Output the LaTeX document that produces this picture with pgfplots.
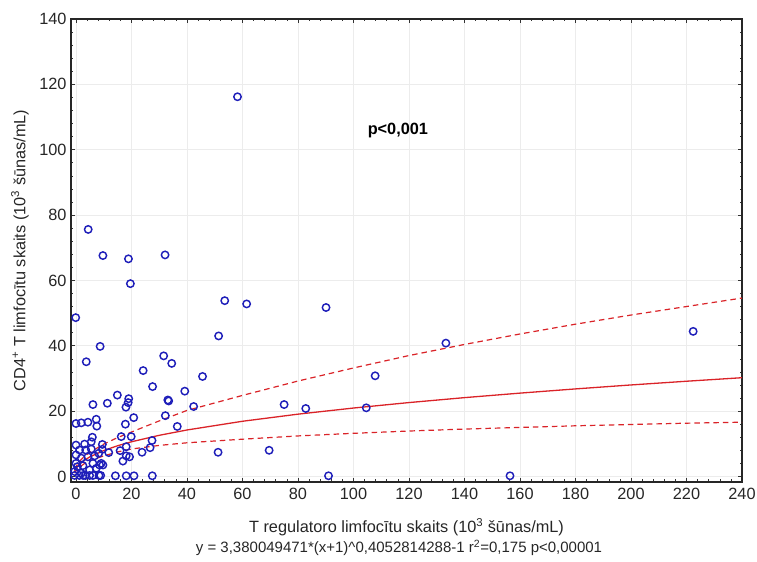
\documentclass[border=0pt]{standalone}
\usepackage{fontspec}
\setmainfont{Liberation Sans}
\usepackage{pgfplots}
\pgfplotsset{compat=1.18}
\definecolor{ptblue}{RGB}{30,30,185}
\definecolor{fitred}{RGB}{218,35,40}
\newcommand{\fs}{\fontsize{16.3bp}{18bp}\selectfont}
\begin{document}
\begin{tikzpicture}
\useasboundingbox (-71bp,-80bp) rectangle (686bp,482bp);
\begin{axis}[
 at={(0,0)}, anchor=south west,
 width=671bp, height=463bp, scale only axis,
 xmin=-1.8, xmax=240, ymin=-1.7, ymax=140,
 xtick={0,20,...,240}, ytick={0,20,...,140},
 minor x tick num=4, minor y tick num=4,
 tick align=inside,
 major tick length=4bp, minor tick length=2.5bp,
 grid=major, major grid style={gray!15, line width=0.6bp},
 axis line style={line width=1.2bp, black!85},
 tick style={black!80, line width=0.6bp},
 ticklabel style={font=\fs, text=black!85},
 xticklabel style={yshift=-3bp},
 yticklabel style={xshift=-1bp},
 /pgf/number format/assume math mode=true,
 xlabel={T regulatoro limfocītu skaits (10\textsuperscript{3} šūnas/mL)},
 ylabel={CD4\textsuperscript{+} T limfocītu skaits (10\textsuperscript{3} šūnas/mL)},
 label style={font=\fs, text=black!85},
 xlabel style={at={(axis description cs:0.5,-0.0972)}, anchor=center},
 ylabel style={at={(axis description cs:-0.076,0.5)}, anchor=center},
 clip=true,
]
% data points
\addplot[only marks, mark=o, mark size=3.7bp, ptblue, mark options={line width=1.45bp}] coordinates {
(58.2,116.2) (4.4,75.6) (9.7,67.6) (18.9,66.6) (32.1,67.8) (19.6,59.0)
(53.6,53.8) (61.5,52.8) (-0.1,48.6) (51.4,43.0) (90.1,51.7) (133.3,40.8)
(222.4,44.4) (107.8,30.8) (8.7,39.8) (3.7,35.1) (31.6,36.9) (34.5,34.6)
(24.2,32.4) (45.6,30.6) (27.6,27.5) (39.2,26.1) (33.1,23.4) (33.4,23.1)
(42.4,21.4) (75.0,22.0) (82.8,20.8) (104.6,21.0) (32.2,18.6) (36.5,15.3)
(51.2,7.4) (69.6,8.0) (91.0,0.2) (156.4,0.2) (27.5,0.2)
(14.9,24.9) (19.0,23.8) (18.8,22.6) (18.0,21.2) (11.3,22.4) (6.1,22.0)
(0,16.2) (1.9,16.4) (4.3,16.6) (7.3,17.5) (7.5,15.4) (17.8,16.0) (20.8,18.0)
(16.3,12.2) (19.9,12.2) (27.4,11.0) (26.7,8.8) (23.8,7.4) (18.1,9.1)
(15.9,7.9) (11.8,7.3) (19.3,6.0) (16.9,4.7) (18.1,6.3) (9.1,4.0)
(0,9.6) (3.1,9.9) (5.9,12.0) (5.5,10.6) (9.5,9.8) (0,6.6) (0,4.0)
(1.3,8.1) (3.5,8.1) (5.5,8.4) (9.5,8.3) (1.9,5.6) (4.3,6.0) (6.7,6.3)
(8.2,7.1) (0.5,3.0) (2.5,3.3) (6.1,4.0) (8.5,3.5) (9.7,3.5) (7.3,2.5)
(4.9,2.0) (-0.5,1.5) (1.9,1.0)
(-0.5,0.3) (1.2,0.3) (2.6,0.3) (3.4,0.3) (4.9,0.3) (6.1,0.3) (8.3,0.3)
(8.9,0.3) (14.2,0.2) (18.1,0.2) (20.9,0.2)
};
% fitted curve
\addplot[fitred, line width=1.3bp] coordinates {
(-0.5,1.55) (0,2.38) (1,3.48) (2,4.28) (3,4.93) (5,5.99) (10,7.93) (15,9.40)
(20,10.61) (30,12.59) (40,14.22) (60,16.89) (80,19.06) (100,20.94)
(120,22.61) (140,24.12) (160,25.50) (180,26.79) (200,28.00) (220,29.14) (240,30.22)
};
% upper band
\addplot[fitred, line width=1.2bp, dash pattern=on 5.5bp off 4bp] coordinates {
(-0.5,2.2) (0,3.0) (1,4.3) (2,5.3) (3,6.1) (5,7.4) (10,9.9) (15,11.9)
(20,13.6) (30,17.0) (40,20.2) (60,24.8) (80,29.2) (100,33.2) (120,37.0)
(140,40.4) (160,43.6) (180,46.6) (200,49.4) (220,52.0) (240,54.6)
};
% lower band
\addplot[fitred, line width=1.2bp, dash pattern=on 5.5bp off 4bp] coordinates {
(-0.5,1.0) (0,1.7) (1,2.6) (2,3.3) (3,3.9) (5,4.8) (10,6.3) (15,7.5)
(20,8.4) (30,9.5) (40,10.3) (60,11.4) (80,12.4) (100,13.2) (120,13.9)
(140,14.5) (160,15.0) (180,15.5) (200,15.9) (220,16.3) (240,16.6)
};
\node[font=\bfseries\fs] at (axis cs:116,106) {p<0,001};
\end{axis}
\node[font=\fontsize{15bp}{17bp}\selectfont, text=black!85] at (328bp,-66bp)
 {y = 3,380049471*(x+1)\textasciicircum 0,4052814288-1 r\textsuperscript{2}=0,175 p<0,00001};
\end{tikzpicture}
\end{document}
